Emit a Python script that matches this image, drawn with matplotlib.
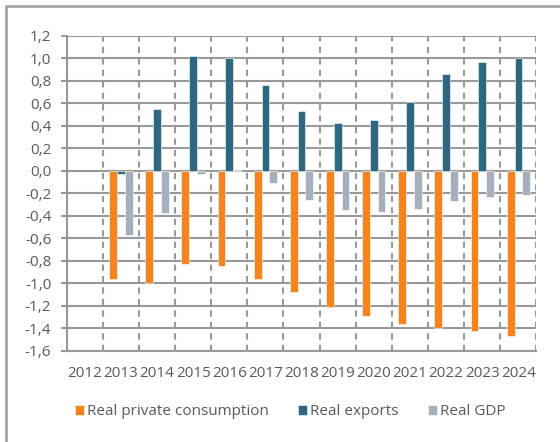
import numpy as np
import matplotlib
matplotlib.use("Agg")
import matplotlib.pyplot as plt
from matplotlib.patches import Rectangle
from matplotlib.ticker import FuncFormatter

plt.rcParams['font.family'] = ['Open Sans', 'DejaVu Sans']

years = ["2012", "2013", "2014", "2015", "2016", "2017", "2018",
         "2019", "2020", "2021", "2022", "2023", "2024"]
consumption = [np.nan, -0.96, -1.00, -0.83, -0.85, -0.96, -1.08,
               -1.21, -1.29, -1.36, -1.40, -1.43, -1.47]
exports = [np.nan, -0.03, 0.55, 1.02, 1.00, 0.76, 0.53,
           0.42, 0.45, 0.61, 0.86, 0.97, 1.00]
gdp = [np.nan, -0.57, -0.38, -0.03, 0.01, -0.11, -0.26,
       -0.35, -0.37, -0.34, -0.27, -0.23, -0.22]

series = [("Real private consumption", consumption, "#F5841F"),
          ("Real exports", exports, "#2C6980"),
          ("Real GDP", gdp, "#A6B0BD")]

text_color = "#595959"
grid_color = "#999999"

fig = plt.figure(figsize=(5.6, 4.42), dpi=100)
ax = fig.add_axes([0.119, 0.207, 0.839, 0.712])

x = np.arange(len(years))
width = 0.215
for i, (name, vals, color) in enumerate(series):
    ax.bar(x + (i - 1) * width, vals, width, color=color, label=name,
           edgecolor="white", linewidth=0.4, zorder=3)

ax.set_xlim(-0.5, len(years) - 0.5)
ax.set_ylim(-1.6, 1.2)
ax.set_yticks(np.arange(-1.6, 1.21, 0.2))
ax.yaxis.set_major_formatter(FuncFormatter(lambda v, p: f"{v:.1f}".replace(".", ",").replace("-0,0", "0,0")))
ax.set_xticks(x)
ax.set_xticklabels(years)

# horizontal solid grid and dashed separators between years
ax.yaxis.grid(True, color=grid_color, linewidth=1.5, zorder=1)
for b in np.arange(0.5, len(years), 1.0):
    ax.axvline(b, color=grid_color, linewidth=1.5, linestyle=(0, (3, 2.5)), zorder=1)

for s in ["top", "right"]:
    ax.spines[s].set_visible(False)
for s in ["left", "bottom"]:
    ax.spines[s].set_color(grid_color)
    ax.spines[s].set_linewidth(1.5)

ax.tick_params(axis="y", length=4, width=1.5, color=grid_color, pad=7,
               labelsize=11, labelcolor=text_color)
ax.tick_params(axis="x", length=0, pad=11, labelsize=11, labelcolor=text_color)

leg = fig.legend(loc="center", bbox_to_anchor=(0.518, 0.068), ncol=3, frameon=False,
                 handlelength=0.6, handleheight=0.6, handletextpad=0.2,
                 columnspacing=1.9, fontsize=11)
for t in leg.get_texts():
    t.set_color(text_color)

# outer frame of the chart area
fig.patches.append(Rectangle((6 / 560, -0.1), 1.2, 1.1 - 6 / 442,
                             transform=fig.transFigure, fill=False,
                             edgecolor="#a6a6a6", linewidth=2))

fig.savefig("out.png", dpi=100)
